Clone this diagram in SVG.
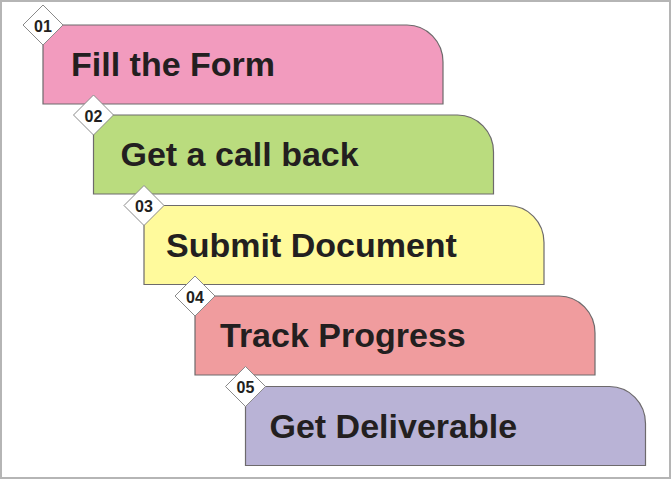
<svg xmlns="http://www.w3.org/2000/svg" width="672" height="480" viewBox="0 0 672 480">
<style>
.box{stroke:#6d6a6c;stroke-width:1.2}
.dia{fill:#fff;stroke:#8a8a8a;stroke-width:1}
.t{font-family:"Liberation Sans",Arial,sans-serif;font-weight:bold;font-size:34px;fill:#231f20}
.n{font-family:"Liberation Sans",Arial,sans-serif;font-weight:bold;font-size:16px;fill:#231f20;text-anchor:middle}
</style>
<rect x="0" y="0" width="672" height="480" fill="#fff"/>
<rect x="1" y="1" width="669" height="477" fill="none" stroke="#b5b5b5" stroke-width="2"/>
<g id="connectors"/>
<g id="step1" transform="translate(43,25)">
<path class="box" fill="#f29bbe" d="M0,0 H364 A36,37 0 0 1 400,37 V79 H0 Z"/>
<polygon class="dia" points="0,-20 20,0 0,20 -20,0"/>
<text class="n" x="0" y="6.5">01</text>
<text class="t" x="28" y="51">Fill the Form</text>
</g>
<g id="step2" transform="translate(93.5,115)">
<path class="box" fill="#badc7e" d="M0,0 H364 A36,37 0 0 1 400,37 V79 H0 Z"/>
<polygon class="dia" points="0,-20 20,0 0,20 -20,0"/>
<text class="n" x="0" y="6.5">02</text>
<text class="t" x="27" y="51">Get a call back</text>
</g>
<g id="step3" transform="translate(144,205.5)">
<path class="box" fill="#fffa9c" d="M0,0 H364 A36,37 0 0 1 400,37 V79 H0 Z"/>
<polygon class="dia" points="0,-20 20,0 0,20 -20,0"/>
<text class="n" x="0" y="6.5">03</text>
<text class="t" x="22" y="51">Submit Document</text>
</g>
<g id="step4" transform="translate(195,296)">
<path class="box" fill="#f09c9e" d="M0,0 H364 A36,37 0 0 1 400,37 V79 H0 Z"/>
<polygon class="dia" points="0,-20 20,0 0,20 -20,0"/>
<text class="n" x="0" y="6.5">04</text>
<text class="t" x="25" y="51">Track Progress</text>
</g>
<g id="step5" transform="translate(245.5,386.5)">
<path class="box" fill="#b9b3d6" d="M0,0 H364 A36,37 0 0 1 400,37 V79 H0 Z"/>
<polygon class="dia" points="0,-20 20,0 0,20 -20,0"/>
<text class="n" x="0" y="6.5">05</text>
<text class="t" x="24" y="51">Get Deliverable</text>
</g>
</svg>
